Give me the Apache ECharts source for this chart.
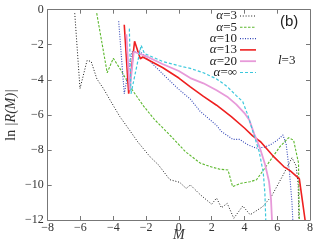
<!DOCTYPE html>
<html><head><meta charset="utf-8">
<script src="https://cdn.jsdelivr.net/npm/echarts@6/dist/echarts.min.js"></script>
<style>html,body{margin:0;padding:0;background:#fff}#c{width:327px;height:247px}</style>
</head><body><div id="c"></div>
<script>
// Data: [M, ln|R(M)|]
const alpha3 = [[-6.35,-0.2],[-6.03,-4.5],[-5.6,-2.9],[-5.35,-2.95],[-5.0,-3.95],[-4.6,-4.5],[-4.2,-5.15],[-3.6,-6.1],[-3.1,-6.75],[-2.5,-7.55],[-1.75,-8.4],[-1.25,-8.85],[-0.55,-9.7],[0.05,-9.85],[0.45,-10.2],[0.7,-10.0],[1.3,-10.55],[2.0,-11.1],[2.3,-10.75],[2.6,-11.3],[2.95,-11.05],[3.35,-11.9],[3.9,-11.2],[4.35,-11.7],[5.1,-11.25],[5.65,-10.65],[6.35,-9.45],[6.9,-8.45],[7.15,-8.9],[7.28,-10],[7.32,-12]];
const alpha5 = [[-5.01,-0.2],[-4.37,-3.6],[-4.0,-2.77],[-3.5,-3.5],[-2.9,-4.5],[-2.15,-5.5],[-1.5,-6.25],[-0.45,-7.25],[0.4,-8.1],[1.3,-8.75],[1.9,-8.95],[2.5,-9.1],[3.0,-9.15],[3.28,-10.1],[3.8,-9.9],[4.34,-9.82],[4.74,-9.7],[5.45,-8.77],[6.16,-7.82],[6.7,-7.3],[7.0,-7.45],[7.3,-8.75],[7.35,-12]];
const alpha10 = [[-3.67,-0.66],[-3.33,-4.79],[-2.86,-2.41],[-2.4,-2.35],[-1.0,-3.65],[0.0,-4.55],[0.7,-5.1],[1.3,-5.8],[2.3,-6.6],[2.6,-6.95],[3.3,-7.4],[3.7,-7.4],[4.2,-7.7],[4.7,-7.9],[5.2,-7.85],[5.6,-7.7],[6.0,-7.45],[6.35,-7.15],[6.55,-7.7],[6.75,-9.3],[6.9,-11],[6.95,-12]];
const alpha13 = [[-3.33,-0.86],[-3.06,-4.79],[-2.7,-1.8],[-2.35,-2.8],[-2.2,-2.7],[-1.0,-3.3],[0.0,-3.9],[0.7,-4.4],[1.5,-4.95],[2.3,-5.45],[3.2,-6.1],[4.0,-6.75],[4.5,-7.2],[5.0,-7.55],[5.8,-8.4],[6.4,-8.95],[6.8,-9.2],[7.35,-9.65],[7.55,-11.0],[7.7,-12]];
const alpha20 = [[-3.2,-1.4],[-3.0,-4.6],[-2.75,-2.4],[-2.45,-2.5],[-2.0,-2.65],[-1.0,-3.1],[0.0,-3.5],[0.7,-3.9],[1.5,-4.2],[2.3,-4.6],[3.0,-5.0],[3.5,-5.4],[4.0,-5.9],[4.3,-6.3],[4.6,-7.1],[4.95,-7.9],[5.25,-8.8],[5.5,-9.8],[5.62,-10.8],[5.68,-12]];
const alphaInf = [[-3.02,-1.08],[-2.92,-4.8],[-2.3,-2.03],[-2.1,-2.5],[-1.0,-2.95],[0.0,-3.2],[0.7,-3.35],[1.5,-3.6],[2.3,-3.95],[2.9,-4.35],[3.5,-4.9],[3.9,-5.25],[4.2,-6.0],[4.5,-6.9],[4.9,-8.1],[5.15,-9.3],[5.25,-10.5],[5.3,-12]];
const seriesNames = ['α=3','α=5','α=10','α=13','α=20','α=∞'];
const seriesData = [alpha3, alpha5, alpha10, alpha13, alpha20, alphaInf];
const xRange = {min:-8, max:8, interval:2};
const yRange = {min:-12, max:0, interval:2};

const colors = ['#1a1a1a','#5cb82e','#3346b8','#ee2020','#e79ad9','#3cc8dc'];
const dashes = [[1,1.8],[2.5,1.5],[1,1.5],'solid','solid',[3,2]];
const widths = [1,1.1,1.1,1.6,1.8,1.2];

const minus = v => String(v).replace('-', '\u2212');
const axisCol = '#777';
const serif = 'Liberation Serif';

function xAx(pos, show){
  return {type:'value', position:pos, min:xRange.min, max:xRange.max, interval:xRange.interval,
    nameMoveOverlap:false,
    axisLine:{show:true, onZero:false, lineStyle:{color:axisCol}},
    axisTick:{show:true, inside:true, length:4, lineStyle:{color:axisCol}},
    axisLabel:{show:show, margin:2, fontFamily:serif, fontSize:12, color:'#333', formatter:minus},
    splitLine:{show:false}};
}
function yAx(pos, show){
  return {type:'value', position:pos, min:yRange.min, max:yRange.max, interval:yRange.interval,
    nameMoveOverlap:false,
    axisLine:{show:true, onZero:false, lineStyle:{color:axisCol}},
    axisTick:{show:true, inside:true, length:4, lineStyle:{color:axisCol}},
    axisLabel:{show:show, margin:4, fontFamily:serif, fontSize:12, color:'#333', formatter:minus},
    splitLine:{show:false}};
}
const xa = xAx('bottom', true);
xa.name = 'M'; xa.nameLocation = 'middle'; xa.nameGap = 8;
xa.nameTextStyle = {fontFamily:serif, fontStyle:'italic', fontSize:14, color:'#333'};
const ya = yAx('left', true);
ya.name = '{r|ln }{i||R(M)|}'; ya.nameLocation = 'middle'; ya.nameGap = 29;
ya.nameTextStyle = {color:'#333', rich:{
  r:{fontFamily:serif, fontSize:14, color:'#333'},
  i:{fontFamily:serif, fontSize:14, fontStyle:'italic', color:'#333'}}};

// legend drawn as text + sample lines (right-aligned text, sample to the right)
const legendRowsY = [16, 27.3, 38.6, 49.9, 61.2, 72.5];
const legendGraphics = [];
seriesNames.forEach((n,i)=>{
  legendGraphics.push({type:'text', x:237, y:legendRowsY[i], style:{
    text:'{i|α}{r|' + n.slice(1) + '}', align:'right', verticalAlign:'middle',
    rich:{i:{fontFamily:serif, fontSize:13, fontStyle:'italic', fill:'#222'},
          r:{fontFamily:serif, fontSize:13, fill:'#222'}}}});
  legendGraphics.push({type:'line', shape:{x1:240, y1:legendRowsY[i], x2:256, y2:legendRowsY[i]},
    style:{stroke:colors[i], lineWidth:widths[i], lineDash: dashes[i]==='solid'? null : dashes[i]}});
});

const chart = echarts.init(document.getElementById('c'), null, {renderer:'canvas'});
chart.setOption({
  animation:false,
  backgroundColor:'#fff',
  grid:{left:47.7, right:17, top:9.7, bottom:27, containLabel:false, outerBoundsMode:'none'},
  xAxis:[xa, xAx('top', false)],
  yAxis:[ya, yAx('right', false)],
  graphic:[
    {type:'text', left:280, top:14, style:{text:'(b)', fontFamily:'Liberation Sans', fontSize:15, fill:'#222'}},
    {type:'text', left:278, top:54, style:{text:'{i|l}{r|=3}', rich:{
      i:{fontFamily:serif, fontStyle:'italic', fontSize:13, fill:'#222'},
      r:{fontFamily:serif, fontSize:13, fill:'#222'}}}}
  ].concat(legendGraphics),
  series: seriesNames.map((n,i)=>({
    name:n, type:'line', data:seriesData[i], xAxisIndex:0, yAxisIndex:0,
    symbol:'none', showSymbol:false, clip:true,
    lineStyle:{color:colors[i], width:widths[i], type:dashes[i]},
    itemStyle:{color:colors[i]}
  }))
});
</script></body></html>
